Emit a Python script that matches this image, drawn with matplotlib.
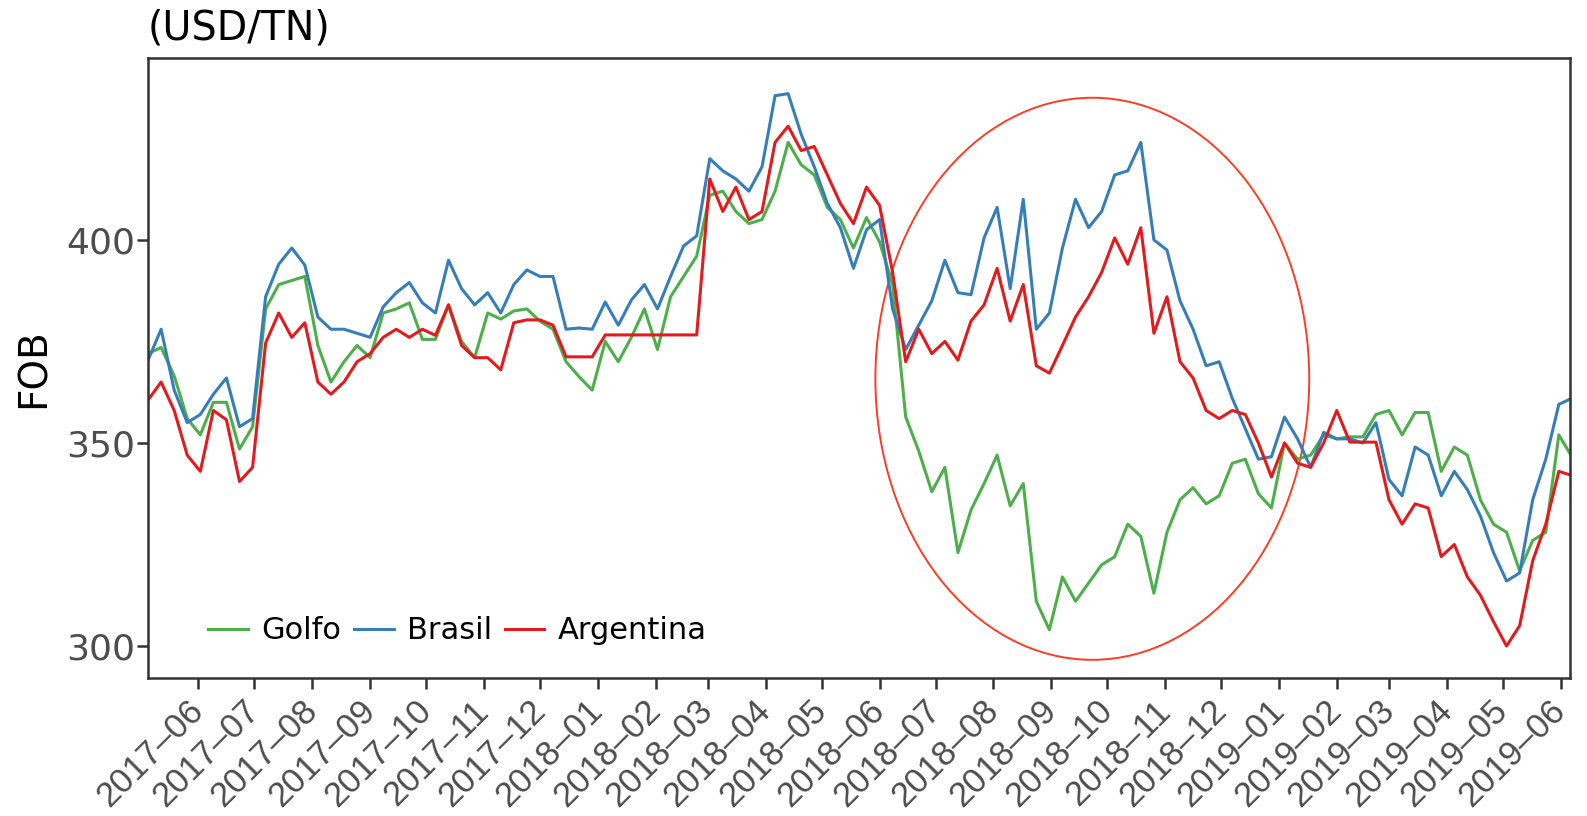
import matplotlib
matplotlib.use("Agg")
import matplotlib.pyplot as plt
import matplotlib.dates as mdates
from matplotlib.patches import Ellipse
import pandas as pd

# weekly readings, 2017-05-05 .. 2019-06-07 (USD/TN, FOB)
dates = pd.date_range("2017-05-05", periods=110, freq="7D")

golfo = [372, 373.5, 366.5, 356, 352, 360, 360, 348.5, 354, 383, 389, 390, 391, 374, 365, 370, 374, 371, 382,
         383, 384.5, 375.5, 375.5, 384, 375, 371, 382, 380.5, 382.5, 383, 380, 378, 370, 366.3, 363, 375, 370,
         376, 383, 373, 386, 391, 396, 411, 412, 407, 404, 405, 412, 424, 418.5, 416, 408, 405, 398,
         405.5, 399.5, 389, 356.4, 348, 338, 344, 323, 333.5, 340, 347, 334.5, 340, 311, 304, 317, 311, 315.5,
         320, 322, 330, 327, 313, 328, 336, 339, 335, 337, 345, 346, 337.5, 334, 350, 346, 347, 352, 351,
         351.5, 351.5, 357, 358, 352, 357.5, 357.5, 343, 349, 347, 336, 330, 328, 318.5, 326, 328, 352, 346.6]

brasil = [370.4, 378, 363, 355, 357, 362, 366, 354, 356, 386, 394, 398, 393.8, 381, 378, 378, 377, 376, 383.5,
          387, 389.5, 384.5, 382, 395, 388, 384, 387, 382, 389, 392.6, 391, 391, 378, 378.3, 378, 384.7, 379,
          385.2, 389, 383, 391, 398.5, 401, 420, 417, 415, 412, 418, 435.5, 436, 426, 418, 409, 403, 393,
          402.5, 405, 383, 373, 379, 385, 395, 387, 386.5, 400.5, 408, 388, 410, 378, 382, 398, 410, 403,
          407, 416, 417, 424, 400, 397.5, 385, 378, 369, 370, 361, 353.5, 346, 346.6, 356.4, 351, 344, 352.6, 351,
          351, 350, 355, 341, 337, 349, 347, 337, 343, 338.5, 332, 323, 316, 318, 336, 346, 359.5, 361]

argentina = [360.6, 365, 358, 347, 343, 358, 355.7, 340.5, 344, 374.6, 382, 376, 379.6, 365, 362, 365, 370, 372, 376,
             378, 376, 378, 376.5, 384, 374, 371, 371, 368, 379.6, 380.3, 380.3, 379, 371.2, 371.2, 371.2, 376.6, 376.6,
             376.6, 376.6, 376.6, 376.6, 376.6, 376.6, 415, 407, 413, 405, 407, 424, 428, 422, 423, 416, 409, 404,
             413, 408.5, 392, 370, 378, 372, 375, 370.4, 380, 384, 393, 380, 389, 369, 367.2, 374, 381, 386,
             392, 400.5, 394, 403, 377, 386, 370, 366, 358, 356, 358, 357, 350, 341.6, 350, 345, 344, 350, 358,
             350.2, 350.2, 350.2, 336, 330, 335, 334, 322, 325, 317, 312.5, 306, 300, 305, 321, 330, 343, 342]

series = [("Golfo", golfo, "#4daf4a"), ("Brasil", brasil, "#377eb8"), ("Argentina", argentina, "#e41a1c")]

fig = plt.figure(figsize=(15.87, 8.16), dpi=100)
ax = fig.add_axes([0.0933, 0.169, 0.896, 0.760])

for name, vals, col in series:
    ax.plot(dates, vals, color=col, lw=2.2, label=name)

# highlight ellipse
ell = Ellipse((mdates.date2num(pd.Timestamp("2018-09-23")), 365.8), width=232.5, height=138.4,
              fill=False, edgecolor="#ff3b22", lw=1.4)
ax.add_patch(ell)

ax.set_xlim(pd.Timestamp("2017-05-05"), pd.Timestamp("2019-06-06"))
ax.set_ylim(292.1, 444.8)
ax.set_yticks([300, 350, 400])

ticks = pd.date_range("2017-06-01", "2019-06-01", freq="MS")
ax.set_xticks(ticks)
ax.set_xticklabels([t.strftime("%Y\u2013%m") for t in ticks], rotation=45, ha="right", va="center",
                   rotation_mode="anchor", family="Liberation Sans")

for s in ax.spines.values():
    s.set_color("#333333")
    s.set_linewidth(1.8)
ax.tick_params(axis="both", length=8, width=1.8, color="#333333", labelcolor="#4d4d4d")
ax.tick_params(axis="y", labelsize=26, pad=1)
ax.tick_params(axis="x", labelsize=25, pad=12)

ax.set_ylabel("FOB", fontsize=28, color="black", labelpad=10)
fig.text(0.093, 0.965, "(USD/TN)", fontsize=28.5, color="black", ha="left", va="center")

ax.legend(loc="center left", bbox_to_anchor=(0.023, 0.076), ncol=3, frameon=False, fontsize=22,
          handlelength=1.3, columnspacing=0.4, handletextpad=0.45)

fig.savefig("out.png", dpi=100)
